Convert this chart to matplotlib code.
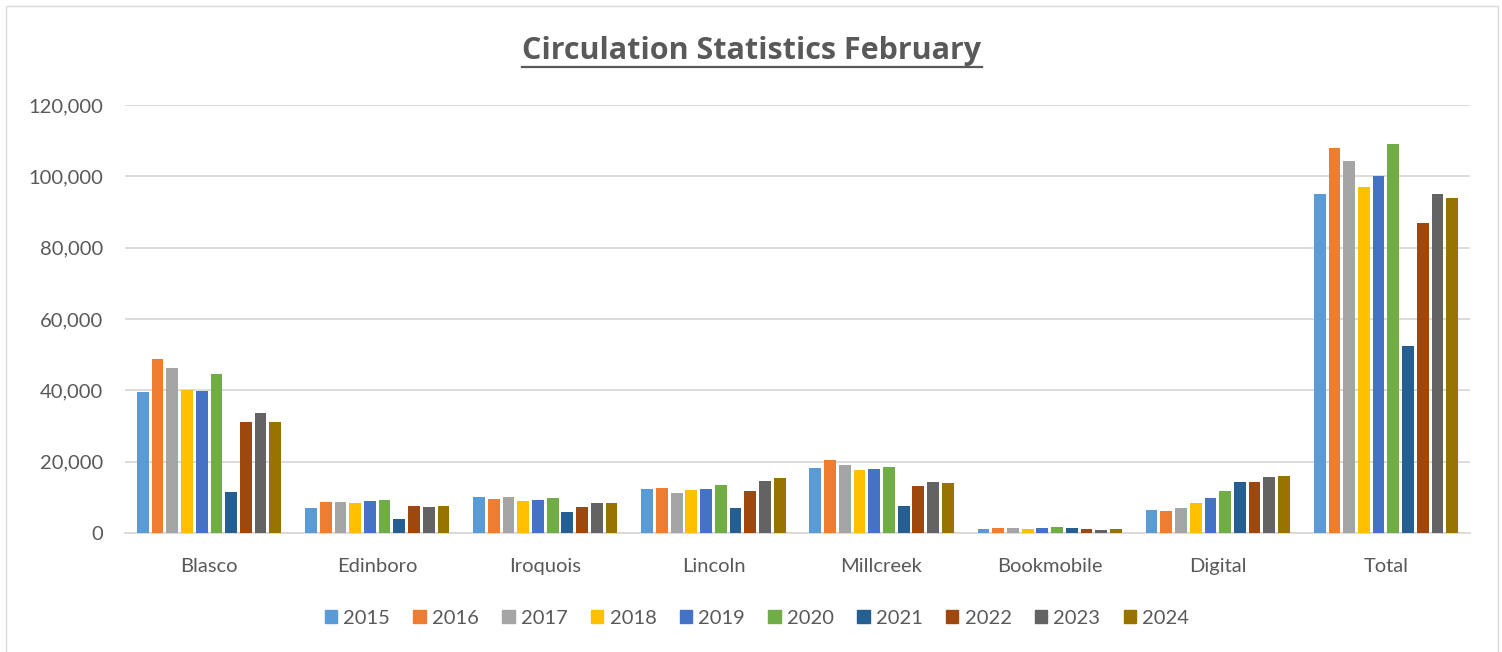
import matplotlib
matplotlib.use("Agg")
import matplotlib.pyplot as plt
import numpy as np
from matplotlib.patches import Rectangle
from matplotlib.lines import Line2D

categories = ["Blasco", "Edinboro", "Iroquois", "Lincoln", "Millcreek", "Bookmobile", "Digital", "Total"]
years = ["2015", "2016", "2017", "2018", "2019", "2020", "2021", "2022", "2023", "2024"]

v2015 = [39500, 6900, 10000, 12200, 18300, 1000, 6400, 95100]
v2016 = [48700, 8600, 9400, 12600, 20600, 1300, 6300, 108000]
v2017 = [46300, 8800, 10100, 11300, 19100, 1300, 6900, 104400]
v2018 = [40000, 8400, 9000, 12100, 17600, 1000, 8400, 97100]
v2019 = [39900, 8900, 9300, 12400, 18000, 1300, 9800, 100200]
v2020 = [44600, 9300, 9700, 13500, 18500, 1600, 11700, 109200]
v2021 = [11500, 3900, 5900, 7100, 7500, 1300, 14300, 52400]
v2022 = [31000, 7500, 7400, 11800, 13300, 1100, 14200, 86800]
v2023 = [33700, 7200, 8300, 14500, 14300, 900, 15700, 95000]
v2024 = [31200, 7500, 8300, 15500, 14000, 1000, 15900, 93800]
series = [v2015, v2016, v2017, v2018, v2019, v2020, v2021, v2022, v2023, v2024]

colors = ["#5B9BD5", "#ED7D31", "#A5A5A5", "#FFC000", "#4472C4",
          "#70AD47", "#255E91", "#9E480E", "#636363", "#997300"]

plt.rcParams['font.family'] = ['Lato', 'DejaVu Sans']
txt = "#595959"
grid = "#D9D9D9"

fig = plt.figure(figsize=(15.02, 6.52), dpi=100)
fig.patch.set_facecolor("white")
# outer border
fig.patches.append(Rectangle((6/1502, -0.01), 1492/1502, 1 - 6/652 + 0.01,
                             transform=fig.transFigure, fill=False,
                             edgecolor=grid, linewidth=1.0))

ax = fig.add_axes([125/1502, 1 - 533/652, 1345/1502, 428/652])
x = np.arange(len(categories))
step = 0.0875
width = 0.07
n = len(series)
for i, (vals, c, yr) in enumerate(zip(series, colors, years)):
    ax.bar(x + (i - (n - 1) / 2) * step, vals, width=width, color=c, label=yr, zorder=3)

ax.set_xlim(-0.5, len(categories) - 0.5)
ax.set_ylim(0, 120000)
ax.set_yticks(np.arange(0, 120001, 20000))
ax.set_yticklabels([f"{int(t):,}" for t in np.arange(0, 120001, 20000)])
ax.set_xticks(x)
ax.set_xticklabels(categories)
ax.yaxis.grid(True, color=grid, linewidth=1.3, zorder=0)
ax.set_axisbelow(True)
for s in ["top", "right", "left"]:
    ax.spines[s].set_visible(False)
ax.spines["bottom"].set_color(grid)
ax.spines["bottom"].set_linewidth(1.3)
ax.tick_params(axis="both", length=0, labelsize=14.5, colors=txt)
ax.tick_params(axis="x", pad=18)
ax.tick_params(axis="y", pad=16)

handles = [Rectangle((0, 0), 1, 1, color=c) for c in colors]
leg = fig.legend(handles, years, loc="center", bbox_to_anchor=(757/1502, 1 - 618/652),
                 ncol=10, frameon=False, fontsize=14.5, handlelength=0.62, handleheight=0.62,
                 handletextpad=0.31, columnspacing=1.15, labelcolor=txt)

title = fig.text(752/1502, 1 - 59/652, "Circulation Statistics February", ha="center",
                 va="baseline", fontsize=22, fontweight="bold", color=txt,
                 family=["Open Sans", "DejaVu Sans"])
fig.canvas.draw()
bb = title.get_window_extent(fig.canvas.get_renderer())
uy = 1 - 66.5/652
fig.lines.append(Line2D([bb.x0 / fig.bbox.width, bb.x1 / fig.bbox.width],
                        [uy, uy],
                        transform=fig.transFigure, color=txt, linewidth=1.6))

fig.savefig("out.png", dpi=100, facecolor="white")
